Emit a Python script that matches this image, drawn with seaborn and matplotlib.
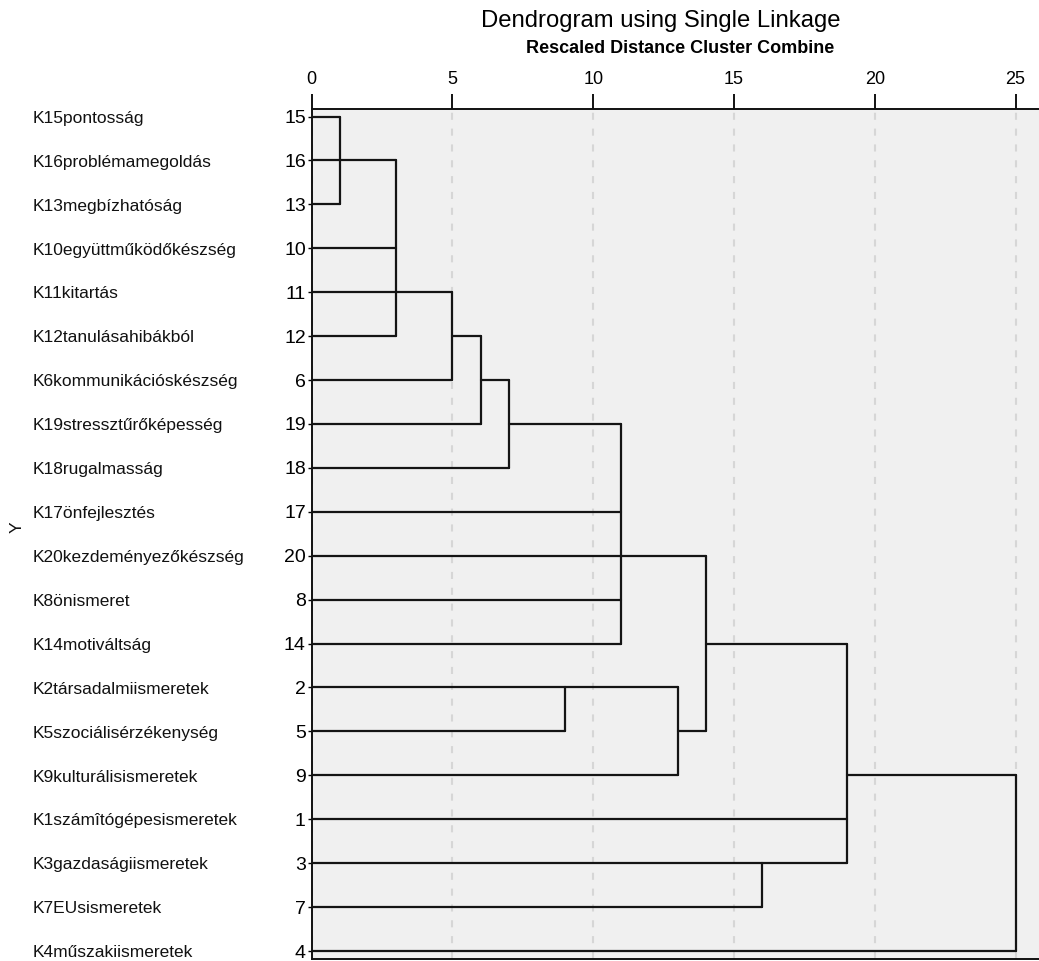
import matplotlib
matplotlib.use("Agg")
import matplotlib.pyplot as plt
import matplotlib.transforms as mtransforms
import seaborn as sns
import pandas as pd

# ---------------- data ----------------
case_order = [15, 16, 13, 10, 11, 12, 6, 19, 18, 17, 20, 8, 14, 2, 5, 9, 1, 3, 7, 4]
var_names = [
    "K15pontosság", "K16problémamegoldás", "K13megbízhatóság",
    "K10együttműködőkészség", "K11kitartás", "K12tanulásahibákból",
    "K6kommunikációskészség", "K19stressztűrőképesség", "K18rugalmasság",
    "K17önfejlesztés", "K20kezdeményezőkészség", "K8önismeret",
    "K14motiváltság", "K2társadalmiismeretek", "K5szociálisérzékenység",
    "K9kulturálisismeretek", "K1számîtógépesismeretek", "K3gazdaságiismeretek",
    "K7EUsismeretek", "K4műszakiismeretek",
]
# merges: rescaled distance, joined parts (case numbers or earlier clusters), exit row (case)
merge_dist = [1, 3, 5, 6, 7, 11, 9, 13, 14, 16, 19, 25]
merge_parts = [
    [15, 16, 13],
    ["C0", 10, 11, 12],
    ["C1", 6],
    ["C2", 19],
    ["C3", 18],
    ["C4", 17, 20, 8, 14],
    [2, 5],
    ["C6", 9],
    ["C5", "C7"],
    [3, 7],
    ["C8", 1, "C9"],
    ["C10", 4],
]
merge_out = [16, 11, 12, 6, 19, 20, 2, 5, 14, 3, 9, None]
x_ticks = [0, 5, 10, 15, 20, 25]

title = "Dendrogram using Single Linkage"
subtitle = "Rescaled Distance Cluster Combine"

# ---------------- build segments ----------------
row_of = {c: i for i, c in enumerate(case_order)}
clusters = {}
recs = []
seg_id = 0
for k, (d, parts, out) in enumerate(zip(merge_dist, merge_parts, merge_out)):
    ys = []
    for p in parts:
        if isinstance(p, str):
            start, r = clusters[p]
        else:
            start, r = 0, row_of[p]
        recs.append((seg_id, start, r)); recs.append((seg_id, d, r)); seg_id += 1
        ys.append(r)
    recs.append((seg_id, d, min(ys))); recs.append((seg_id, d, max(ys))); seg_id += 1
    clusters[f"C{k}"] = (d, row_of[out] if out is not None else None)
df = pd.DataFrame(recs, columns=["seg", "x", "y"])

# ---------------- plot ----------------
sns.set_theme(style="white")
plt.rcParams["font.family"] = ["Liberation Sans", "DejaVu Sans"]

W, H = 1039, 961
fig = plt.figure(figsize=(W / 100, H / 100), dpi=100)
left_px, right_px, top_px, bot_px = 311.7, 1039, 109, 959
ax = fig.add_axes([left_px / W, (H - bot_px) / H, (right_px - left_px) / W, (bot_px - top_px) / H])
ax.set_facecolor("#f0f0f0")

ppu = (1015.5 - left_px) / 25
row_px = (951 - 116.5) / 19
xlim = (0, (right_px - left_px) / ppu)
ylim = (19 + (bot_px - 951) / row_px, -(116.5 - top_px) / row_px)

ax.set_xticks(x_ticks)
ax.xaxis.tick_top()
ax.grid(axis="x", color="#d6d6d6", linewidth=1.5, linestyle=(0, (3.4, 4.2)))
ax.grid(axis="y", visible=False)
ax.set_axisbelow(True)

sns.lineplot(data=df, x="x", y="y", units="seg", estimator=None, sort=False,
             color="#141414", linewidth=1.6, legend=False, ax=ax)

ax.set_xlim(*xlim)
ax.set_ylim(*ylim)

ax.set_xticks(x_ticks)
ax.set_xticklabels([str(t) for t in x_ticks])
ax.set_yticks(range(len(case_order)))
ax.set_yticklabels([str(c) for c in case_order])
ax.tick_params(axis="x", top=True, bottom=False, labeltop=True, labelbottom=False,
               length=10.8, width=1.3, pad=4.5, labelsize=13, colors="black", direction="out")
ax.tick_params(axis="y", left=True, length=3, width=1, pad=1.2, labelsize=14,
               colors="black", direction="out")
ax.set_xlabel("")
ax.set_ylabel("")

for s in ["top", "left", "bottom"]:
    ax.spines[s].set_visible(True)
    ax.spines[s].set_color("#111111")
    ax.spines[s].set_linewidth(1.4)
ax.spines["right"].set_visible(False)

trans = mtransforms.blended_transform_factory(fig.transFigure, ax.transData)
for i, name in enumerate(var_names):
    ax.text(33 / W, i + 0.04, name, transform=trans, ha="left", va="center",
            fontsize=12.5, color="#111111", clip_on=False)

fig.text(17 / W, 1 - 527 / H, "Y", rotation=90, ha="center", va="center",
         fontsize=12.5, color="#111111")
fig.text(661 / W, 1 - 27 / H, title, ha="center", va="baseline", fontsize=17.2, color="black")
fig.text(680 / W, 1 - 53 / H, subtitle, ha="center", va="baseline", fontsize=13,
         fontweight="bold", color="black")

fig.savefig("out.png", dpi=100)
